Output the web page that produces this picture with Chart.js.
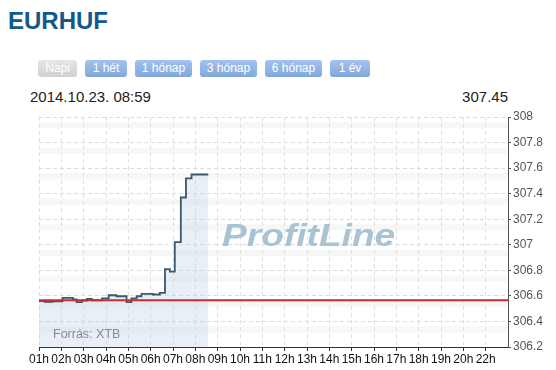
<!DOCTYPE html>
<html>
<head>
<meta charset="utf-8">
<script src="https://cdn.jsdelivr.net/npm/chart.js@4"></script>
<style>
  body { margin: 0; background: #fff; font-family: 'Liberation Sans', Arial, sans-serif; }
  #wrap { position: relative; width: 556px; height: 370px; overflow: hidden; }
  .abs { position: absolute; white-space: nowrap; }
  #title { left: 8px; top: 8.6px; font-size: 24px; line-height: 24px; font-weight: bold; color: #125a8a; }
  .btn { position: absolute; top: 60px; height: 17px; line-height: 17px; font-size: 12px; color: #fff; text-align: center;
         border-radius: 3px; background: linear-gradient(#a4c3ec, #80a7db); }
  .btn.off { background: linear-gradient(#e6e6e6, #d0d0d0); }
  #stamp { left: 30px; top: 88.8px; font-size: 15px; line-height: 16px; color: #222; }
  #last { right: 48px; top: 88.8px; font-size: 15px; line-height: 16px; color: #222; }
  #mark { left: 222px; top: 218.6px; font-size: 32px; line-height: 32px; font-weight: bold; font-style: italic; color: #a9c3d3;
          transform: scaleX(1.16); transform-origin: left top; }
  #src { left: 53px; top: 327.5px; font-size: 12.5px; line-height: 13px; color: #8a8a8a; }
  canvas { position: absolute; left: 0; top: 100px; }
</style>
</head>
<body>
<div id="wrap">
  <div id="title" class="abs">EURHUF</div>
  <div class="btn off" style="left:38px;width:39px">Napi</div>
  <div class="btn" style="left:85px;width:42px">1 hét</div>
  <div class="btn" style="left:135px;width:57px">1 hónap</div>
  <div class="btn" style="left:200px;width:57px">3 hónap</div>
  <div class="btn" style="left:265px;width:57px">6 hónap</div>
  <div class="btn" style="left:330px;width:40px">1 év</div>
  <div id="stamp" class="abs">2014.10.23. 08:59</div>
  <div id="last" class="abs">307.45</div>
  <canvas id="myChart" width="556" height="270"></canvas>
  <div id="mark" class="abs">ProfitLine</div>
  <div id="src" class="abs">Forrás: XTB</div>
</div>
<script>
// data
const hourLabels = ["01h", "02h", "03h", "04h", "05h", "06h", "07h", "08h", "09h", "10h", "11h",
                    "12h", "13h", "14h", "15h", "16h", "17h", "18h", "19h", "20h", "22h"];
// time in hours (01h = 1), each value holds until the next time
const priceTimes = [1.00, 1.25, 1.60, 2.05, 2.52, 2.68, 2.92, 3.15, 3.37, 3.82, 4.12, 4.47, 4.92,
                    5.14, 5.37, 5.59, 6.10, 6.41, 6.64, 6.86, 7.08, 7.35, 7.58, 7.83, 8.28, 8.58];
const priceValues = [306.566, 306.560, 306.554, 306.558, 306.585, 306.572, 306.551, 306.564, 306.577,
                     306.566, 306.580, 306.605, 306.597, 306.551, 306.580, 306.597, 306.616, 306.611,
                     306.624, 306.810, 306.790, 307.020, 307.370, 307.520, 307.550, 307.550];
const prevClose = 306.565;
const yMin = 306.2, yMax = 308, yStep = 0.1;
const xMin = 1, xMax = 22;

// light bands just above every minor tick
const bandPlugin = {
    id: 'bands',
    beforeDraw(chart) {
        const {ctx, chartArea} = chart;
        const y = chart.scales.y;
        ctx.save();
        ctx.fillStyle = '#f7f7f7';
        for (let i = 1; i < 18; i += 2) {
            const m = yMin + i * yStep;
            const top = y.getPixelForValue(m + 0.06);
            const bottom = y.getPixelForValue(m + 0.012);
            ctx.fillRect(chartArea.left, top, chartArea.right - chartArea.left, bottom - top);
        }
        ctx.restore();
    }
};

const ctx = document.getElementById('myChart');
const myChart = new Chart(ctx, {
    type: 'line',
    data: {
        datasets: [{
            label: 'prev',
            data: [{x: xMin, y: prevClose}, {x: xMax, y: prevClose}],
            borderColor: '#c62e2e',
            borderWidth: 2,
            pointRadius: 0,
            fill: false,
            order: 0
        }, {
            label: 'EURHUF',
            data: priceTimes.map((t, i) => ({x: t, y: priceValues[i]})),
            stepped: 'after',
            borderColor: '#3a5870',
            borderWidth: 1.8,
            backgroundColor: 'rgba(190, 210, 232, 0.36)',
            fill: 'start',
            pointRadius: 0,
            order: 1
        }]
    },
    options: {
        responsive: false,
        devicePixelRatio: 1,
        animation: false,
        layout: { padding: { left: 39, top: 17, right: 0, bottom: 0 } },
        plugins: { legend: { display: false }, tooltip: { enabled: false } },
        scales: {
            x: {
                type: 'linear',
                min: xMin,
                max: xMax,
                afterBuildTicks: (scale) => { scale.ticks = hourLabels.map((l, i) => ({value: i + 1})); },
                afterFit: (scale) => { scale.height = 23; },
                ticks: {
                    autoSkip: false,
                    maxRotation: 0,
                    padding: 1,
                    color: '#111',
                    font: { family: 'Liberation Sans', size: 12 },
                    callback: (v, i) => hourLabels[i]
                },
                grid: { color: '#e0e0e0', tickColor: '#333', tickLength: 4 },
                border: { color: '#333', dash: [4, 3] }
            },
            y: {
                position: 'right',
                min: yMin,
                max: yMax,
                afterFit: (scale) => { scale.width = 48; },
                ticks: {
                    stepSize: yStep,
                    padding: 2,
                    color: '#555',
                    font: { family: 'Liberation Sans', size: 12 },
                    callback: (v, i) => (i % 2 === 0 ? String(Math.round(v * 10) / 10) : '')
                },
                grid: {
                    color: (c) => (c.index % 2 === 0 ? '#dcdcdc' : 'rgba(0,0,0,0)'),
                    tickColor: (c) => (c.index % 2 === 0 ? '#555' : '#e02020'),
                    tickLength: 3
                },
                border: { color: '#555', dash: [4, 3] }
            }
        }
    },
    plugins: [bandPlugin]
});
</script>
</body>
</html>
